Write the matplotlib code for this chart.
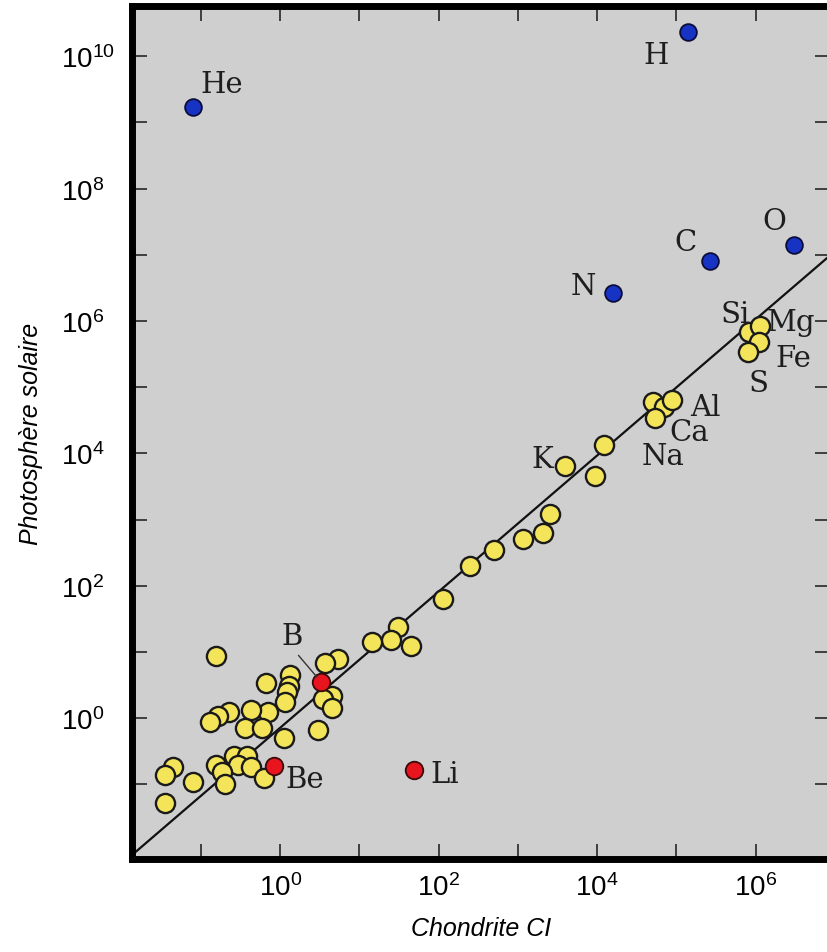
import numpy as np
import matplotlib.pyplot as plt
from matplotlib.ticker import FixedLocator, FuncFormatter

plt.rcParams['font.family'] = ['Liberation Sans', 'DejaVu Sans']

# abondances, en log10 (Si = 10^6)
# x = chondrite CI, y = photosphere solaire
gaz_noms = ['He', 'H', 'C', 'O', 'N']
gaz_x = [-1.10, 5.15, 5.42, 6.48, 4.20]
gaz_y = [9.23, 10.36, 6.90, 7.15, 6.42]

legers_noms = ['B', 'Be', 'Li']
legers_x = [0.52, -0.08, 1.69]
legers_y = [0.54, -0.73, -0.79]

autres_noms = ['Si', 'Mg', 'Fe', 'S', '', 'Ca', 'Al', 'Na', '', 'K',
               '', '', '', '', '', '', '', '', '', '',
               '', '', '', '', '', '', '', '', '', '',
               '', '', '', '', '', '', '', '', '', '',
               '', '', '', '', '', '', '', '', '', '',
               '', '', '']
autres_x = [5.92, 6.06, 6.05, 5.91, 4.70, 4.85, 4.95, 4.73, 4.09, 3.60,
            3.98, 3.41, 3.32, 3.07, 2.70, 2.39, 2.05, 1.49, 1.40, 1.16,
            1.65, 0.73, 0.56, 0.66, 0.54, 0.66, 0.48, -0.18, 0.13, 0.11,
            0.09, 0.06, -0.15, -0.37, -0.64, -0.78, -0.88, -0.44, -0.23, 0.05,
            -0.58, -0.42, -0.53, -0.81, -0.37, -0.73, -0.69, -0.21, -1.35, -1.45,
            -1.10, -1.45, -0.81]
autres_y = [5.83, 5.92, 5.69, 5.53, 4.77, 4.70, 4.80, 4.53, 4.12, 3.81,
            3.66, 3.08, 2.79, 2.70, 2.54, 2.30, 1.80, 1.37, 1.18, 1.15,
            1.09, 0.89, 0.83, 0.33, 0.29, 0.15, -0.18, 0.53, 0.65, 0.48,
            0.39, 0.24, 0.09, 0.12, 0.09, 0.03, -0.06, -0.15, -0.15, -0.30,
            -0.57, -0.57, -0.71, -0.71, -0.74, -0.82, -1.00, -0.91, -0.74, -0.86,
            -0.97, -1.28, 0.94]

# droite de reference (extremites)
droite_x = [-1.87, 6.94]
droite_y = [-2.07, 6.99]

# decalage des etiquettes (points)
decalages = {'He': (21, 17), 'H': (-23, -16), 'C': (-17, 14), 'O': (-14, 17),
             'N': (-21, 5), 'Si': (-10, 13), 'Mg': (22, 3), 'Fe': (24, -12),
             'S': (7, -22), 'Al': (24, -5), 'Ca': (18, -18), 'Na': (6, -27),
             'K': (-17, 5), 'B': (-21, 33), 'Be': (22, -9), 'Li': (22, -3)}

fig = plt.figure(figsize=(8.27, 9.53), dpi=100)
ax = fig.add_axes([132/827, 1 - 860/953, 698/827, 853/953])
ax.set_facecolor('#cfcfcf')
ax.set_xscale('log')
ax.set_yscale('log')
ax.set_xlim(10**-1.87, 10**6.94)
ax.set_ylim(10**-2.13, 10**10.76)

ax.plot(np.power(10.0, droite_x), np.power(10.0, droite_y), color='#111111', lw=1.6, zorder=2)

ax.scatter(np.power(10.0, autres_x), np.power(10.0, autres_y), s=190, c='#f3e45a',
           edgecolors='#1a1a1a', linewidths=1.7, zorder=3)
ax.scatter(np.power(10.0, gaz_x), np.power(10.0, gaz_y), s=145, c='#1633c4',
           edgecolors='#0b0b3a', linewidths=1.3, zorder=4)
ax.scatter(np.power(10.0, legers_x), np.power(10.0, legers_y), s=160, c='#e8141e',
           edgecolors='#3a0a0a', linewidths=1.3, zorder=4)

def etiquette(nom, x, y):
    if nom == '':
        return
    dx, dy = decalages[nom]
    if nom == 'B':
        ax.annotate(nom, (10**x, 10**y), xytext=(dx, dy), textcoords='offset points',
                    ha='center', va='center', fontsize=21, family='DejaVu Serif',
                    color='#1e1e1e', zorder=5,
                    arrowprops=dict(arrowstyle='-', color='#333333', lw=1.0,
                                    relpos=(0.6, 0.0), shrinkA=2, shrinkB=5))
    else:
        ax.annotate(nom, (10**x, 10**y), xytext=(dx, dy), textcoords='offset points',
                    ha='center', va='center', fontsize=21, family='DejaVu Serif',
                    color='#1e1e1e', zorder=5)

for n, x, y in zip(gaz_noms, gaz_x, gaz_y):
    etiquette(n, x, y)
for n, x, y in zip(legers_noms, legers_x, legers_y):
    etiquette(n, x, y)
for n, x, y in zip(autres_noms, autres_x, autres_y):
    etiquette(n, x, y)

# graduations: toutes les decades, etiquettes sur les exposants pairs
def fmt(v, pos):
    e = int(round(np.log10(v)))
    if e % 2 == 0:
        return r'$\mathregular{10^{%d}}$' % e
    return ''

ax.xaxis.set_major_locator(FixedLocator([10.0**k for k in range(-1, 7)]))
ax.yaxis.set_major_locator(FixedLocator([10.0**k for k in range(-1, 11)]))
ax.xaxis.set_minor_locator(FixedLocator([]))
ax.yaxis.set_minor_locator(FixedLocator([]))
ax.xaxis.set_major_formatter(FuncFormatter(fmt))
ax.yaxis.set_major_formatter(FuncFormatter(fmt))
ax.tick_params(which='major', direction='in', length=11, width=1.3, color='#333333',
               top=True, right=True, labelsize=20)
ax.tick_params(axis='x', pad=10)
ax.tick_params(axis='y', pad=51)
for lab in ax.get_yticklabels():
    lab.set_horizontalalignment('left')

for cote in ['left', 'top', 'bottom']:
    ax.spines[cote].set_linewidth(5)
    ax.spines[cote].set_color('black')
ax.spines['right'].set_visible(False)

ax.set_xlabel('Chondrite CI', fontsize=18, style='italic', labelpad=11)
ax.set_ylabel('Photosphère solaire', fontsize=18, style='italic', labelpad=13)

fig.savefig('out.png', dpi=100)
